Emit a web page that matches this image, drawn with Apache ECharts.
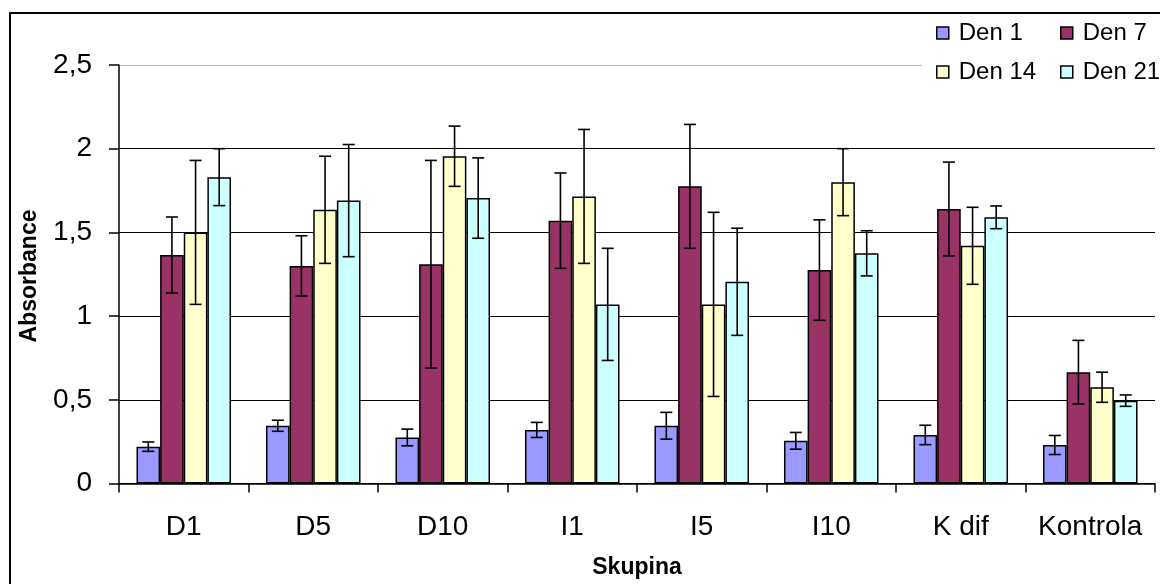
<!DOCTYPE html>
<html>
<head>
<meta charset="utf-8">
<script src="https://cdn.jsdelivr.net/npm/echarts@6/dist/echarts.min.js"></script>
<style>
html,body{margin:0;padding:0;background:#fff;}
#chart{width:1160px;height:584px;}
</style>
</head>
<body>
<div id="chart"></div>
<script>
const categories = ['D1', 'D5', 'D10', 'I1', 'I5', 'I10', 'K dif', 'Kontrola'];
const seriesNames = ['Den 1', 'Den 7', 'Den 14', 'Den 21'];
const den1 = [0.22, 0.345, 0.275, 0.32, 0.345, 0.255, 0.29, 0.23];
const den7 = [1.365, 1.30, 1.31, 1.57, 1.775, 1.275, 1.64, 0.665];
const den14 = [1.50, 1.635, 1.955, 1.715, 1.07, 1.80, 1.42, 0.575];
const den21 = [1.83, 1.69, 1.705, 1.07, 1.205, 1.375, 1.59, 0.495];
const err1 = [0.028, 0.033, 0.05, 0.045, 0.08, 0.05, 0.058, 0.057];
const err7 = [0.227, 0.18, 0.62, 0.285, 0.37, 0.30, 0.28, 0.19];
const err14 = [0.43, 0.32, 0.18, 0.40, 0.55, 0.20, 0.23, 0.09];
const err21 = [0.17, 0.335, 0.24, 0.335, 0.32, 0.135, 0.068, 0.034];
const yTicks = [0, 0.5, 1, 1.5, 2, 2.5];
const colors = ['#9999FF', '#993366', '#FFFFCC', '#CCFFFF'];

const values = [den1, den7, den14, den21];
const errors = [err1, err7, err14, err21];
const CAT_GAP = 0.27;

const barSeries = seriesNames.map((name, k) => ({
  name: name,
  type: 'bar',
  data: values[k],
  barGap: 0,
  barCategoryGap: (CAT_GAP * 100) + '%',
  itemStyle: { color: colors[k], borderColor: '#000', borderWidth: 1.5 },
  emphasis: { disabled: true },
  z: 2
}));

function makeErr(k) {
  return {
    type: 'custom',
    name: 'err' + k,
    data: values[k].map((v, i) => [i, v, errors[k][i]]),
    z: 5,
    silent: true,
    renderItem: function (params, api) {
      const cat = api.value(0), v = api.value(1), e = api.value(2);
      const band = api.size([1, 0])[0];
      const groupW = band * (1 - CAT_GAP);
      const bw = groupW / 4;
      const cx = api.coord([cat, v])[0] - groupW / 2 + (k + 0.5) * bw;
      const yt = api.coord([cat, v + e])[1];
      const yb = api.coord([cat, v - e])[1];
      const h = 6;
      const st = { stroke: '#000', lineWidth: 1.6 };
      return {
        type: 'group',
        children: [
          { type: 'line', shape: { x1: cx, y1: yt, x2: cx, y2: yb }, style: st },
          { type: 'line', shape: { x1: cx - h, y1: yt, x2: cx + h, y2: yt }, style: st },
          { type: 'line', shape: { x1: cx - h, y1: yb, x2: cx + h, y2: yb }, style: st }
        ]
      };
    }
  };
}

const legendPos = [[936, 21], [1060, 21], [936, 60], [1060, 60]];
const legends = seriesNames.map((n, k) => ({
  data: [n],
  left: legendPos[k][0],
  top: legendPos[k][1],
  padding: 0,
  itemWidth: 12,
  itemHeight: 12,
  itemGap: 10,
  icon: 'rect',
  selectedMode: false,
  textStyle: { fontFamily: 'Liberation Sans', fontSize: 24, color: '#000', padding: [0, 0, 0, 5] },
  itemStyle: { borderColor: '#000', borderWidth: 1.5 }
}));

const chart = echarts.init(document.getElementById('chart'), null, { renderer: 'canvas' });
chart.setOption({
  animation: false,
  backgroundColor: '#fff',
  textStyle: { fontFamily: 'Liberation Sans' },
  grid: { left: 119, right: 5, top: 65, bottom: 100, containLabel: false },
  legend: legends,
  graphic: [
    { type: 'rect', z: 3, shape: { x: 922, y: 16, width: 240, height: 74 }, style: { fill: '#fff' } },
    { type: 'rect', z: 10, shape: { x: 10, y: 13, width: 1200, height: 700 }, style: { fill: 'none', stroke: '#000', lineWidth: 2 } },
    { type: 'text', z: 10, x: 30, y: 276, rotation: Math.PI / 2,
      style: { text: 'Absorbance', font: 'bold 23px "Liberation Sans"', fill: '#000', textAlign: 'center', textVerticalAlign: 'middle' } }
  ],
  xAxis: {
    type: 'category',
    data: categories,
    name: 'Skupina',
    nameLocation: 'middle',
    nameGap: 84,
    nameTextStyle: { fontFamily: 'Liberation Sans', fontSize: 23, fontWeight: 'bold', color: '#000', verticalAlign: 'middle' },
    axisLine: { lineStyle: { color: '#000', width: 1.5 } },
    axisTick: { show: true, alignWithLabel: false, length: 9, lineStyle: { color: '#000', width: 1.5 } },
    axisLabel: { fontFamily: 'Liberation Sans', fontSize: 28, color: '#000', margin: 30, interval: 0 },
    splitLine: { show: false }
  },
  yAxis: {
    type: 'value',
    min: 0,
    max: 2.5,
    interval: 0.5,
    axisLine: { show: true, lineStyle: { color: '#000', width: 1.5 } },
    axisTick: { show: true, length: 10, lineStyle: { color: '#000', width: 1.5 } },
    axisLabel: {
      fontFamily: 'Liberation Sans', fontSize: 28, color: '#000', margin: 27,
      formatter: v => String(v).replace('.', ',')
    },
    splitLine: { show: true, lineStyle: { color: ['#000', '#000', '#000', '#000', '#000', '#bbb'], width: 1.2 } }
  },
  series: barSeries.concat([0, 1, 2, 3].map(makeErr))
});
</script>
</body>
</html>
